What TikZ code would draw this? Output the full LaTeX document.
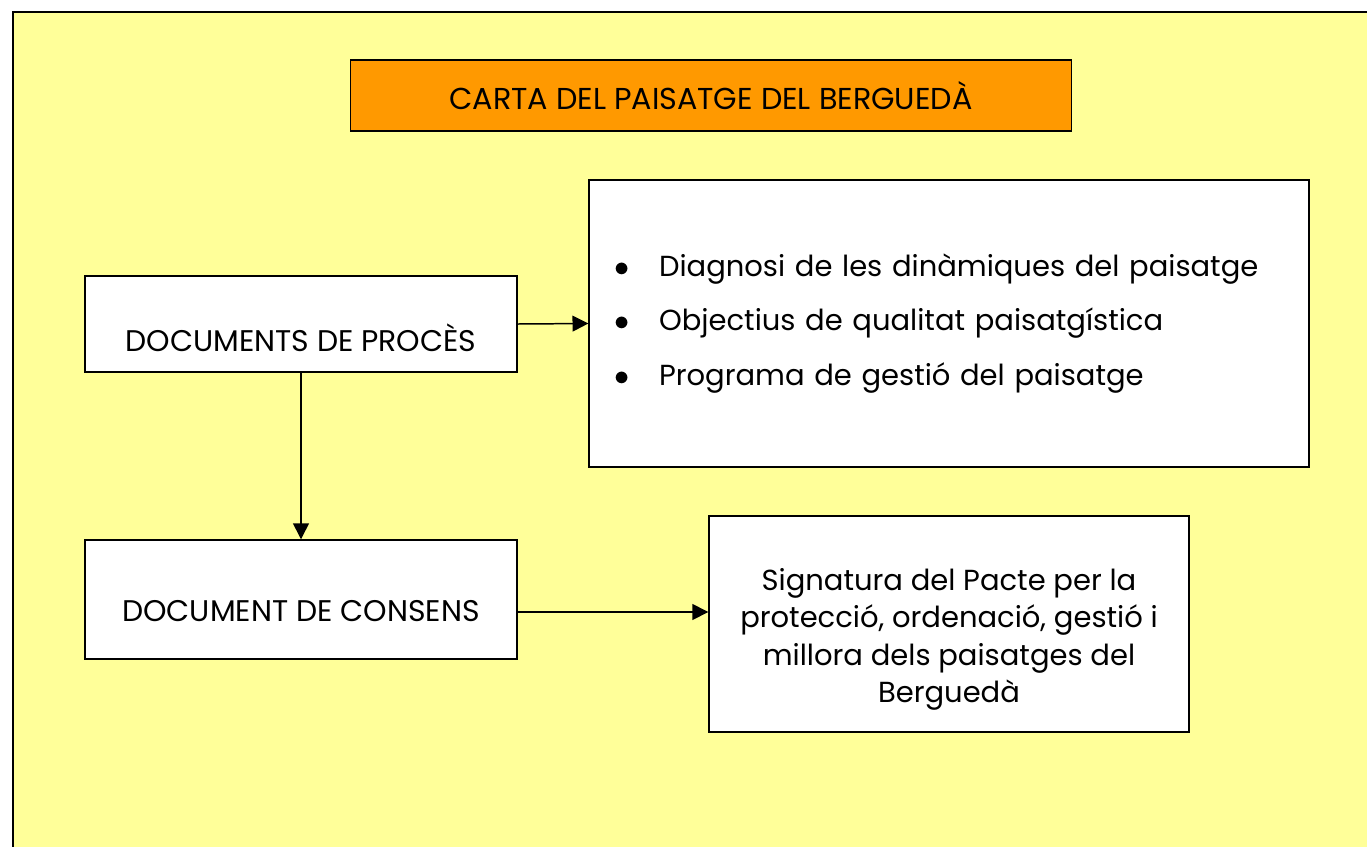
\documentclass[tikz,border=0pt]{standalone}
\usepackage{fontspec}
\setmainfont{Poppins}
\usetikzlibrary{arrows.meta}
\definecolor{fonsgroc}{HTML}{FFFF99}
\definecolor{taronja}{HTML}{FF9900}
\newcommand{\baixa}[2]{\raisebox{-#1}[\height][\depth]{#2}}
\tikzset{
	caixa/.style={draw, line width=0.85pt, fill=white, inner sep=0pt, font=\fontsize{16.5}{21.3}\selectfont},
	fletxa/.style={-{Triangle[length=9pt,width=9pt]}, line width=0.85pt}
}
\begin{document}
\begin{tikzpicture}[x=0.02cm, y=-0.02cm]
	\useasboundingbox (0,0) rectangle (1367,846);
	\filldraw [fill=fonsgroc, line width=0.85pt] (13,12) rectangle (1400,880);

\node [caixa, fill=taronja, line width=1pt, minimum width=14.42cm, minimum height=1.42cm, font=\fontsize{17.2}{21}\selectfont] (titol) at (711,95.5) {CARTA DEL PAISATGE DEL BERGUEDÀ};

\node [caixa, minimum width=8.64cm, minimum height=1.92cm, font=\fontsize{17}{21}\selectfont] (proces) at (301,324) {\baixa{0.28cm}{DOCUMENTS DE PROCÈS}};
\node [caixa, minimum width=8.64cm, minimum height=2.38cm, font=\fontsize{17}{21}\selectfont] (consens) at (301,599.5) {\baixa{0.24cm}{DOCUMENT DE CONSENS}};

\node [caixa, minimum width=14.4cm, minimum height=5.74cm, text width=13.4cm, align=left, font=\fontsize{16.5}{31.2}\selectfont] (dinamiques) at (949,323.5) {%
	\makebox[0.9cm][l]{$\bullet$}Diagnosi de les dinàmiques del paisatge\\
	\makebox[0.9cm][l]{$\bullet$}Objectius de qualitat paisatgística\\
	\makebox[0.9cm][l]{$\bullet$}Programa de gestió del paisatge};

\node [caixa, minimum width=9.6cm, minimum height=4.32cm] (pacte) at (949,624) {\baixa{0.3cm}{\begin{tabular}{@{}c@{}}Signatura del Pacte per la\\ protecció, ordenació, gestió i\\ millora dels paisatges del\\ Berguedà\end{tabular}}};

\draw [fletxa] (proces.east) -- (dinamiques.west);
\draw [fletxa] (proces.south) -- (consens.north);
\draw [fletxa] ([yshift=-0.25cm]consens.east) -- ([yshift=-0.25cm]consens.east -| pacte.west);
	\end{tikzpicture}
\end{document}
